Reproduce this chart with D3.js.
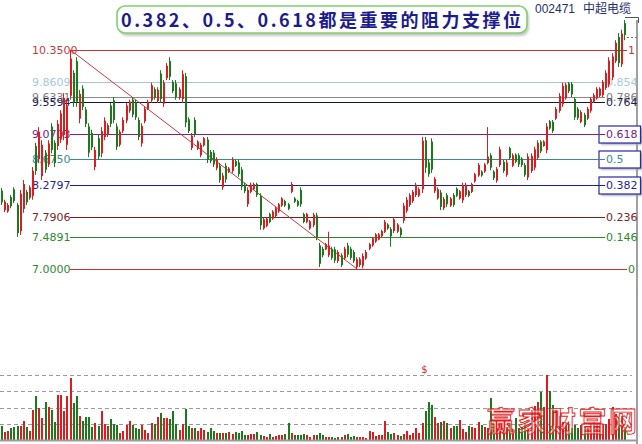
<!DOCTYPE html>
<html>
<head>
<meta charset="utf-8">
<script src="https://cdn.jsdelivr.net/npm/d3@7"></script>
<style>
  html, body { margin: 0; padding: 0; background: #fff; overflow: hidden; }
  svg { display: block; }
</style>
</head>
<body>
<svg id="chart" width="642" height="444"></svg>
<script>
// ---- data ----
const stockCode = "002471";
const stockName = "中超电缆";
const titleText = "0.382、0.5、0.618都是重要的阻力支撑位";
const watermarkText = "赢家财富网";

// Fibonacci retracement ratios, drawn between the swing high and the swing low
const fibRatios = [1, 0.854, 0.786, 0.764, 0.618, 0.5, 0.382, 0.236, 0.146, 0];
const boxedRatios = [0.618, 0.5, 0.382];

// daily bars: [open, high, low, close]
const ohlc = [
  [8.20,8.24,7.98,8.02],[7.90,8.06,7.87,8.03],[7.88,8.01,7.86,7.98],[8.10,8.13,7.93,7.96],[8.22,8.25,8.01,8.04],
  [7.98,8.01,7.49,7.55],[7.58,8.21,7.52,8.15],[7.92,8.36,7.86,8.30],[8.18,8.21,7.98,8.02],[8.09,8.28,8.06,8.25],
  [8.12,8.56,8.06,8.50],[8.88,8.93,8.44,8.50],[8.68,9.17,8.62,9.10],[8.42,8.97,8.36,8.90],[8.78,8.82,8.47,8.52],
  [8.60,8.97,8.56,8.92],[9.18,9.23,8.77,8.82],[8.93,8.97,8.56,8.62],[8.88,9.28,8.82,9.22],[8.98,9.43,8.93,9.38],
  [9.05,9.69,8.97,9.62],[8.90,9.59,8.82,9.50],[9.65,10.35,9.59,10.22],[10.00,10.04,9.48,9.55],[10.18,10.24,9.48,9.56],
  [9.30,9.74,9.23,9.68],[9.76,9.81,9.43,9.48],[9.44,9.48,9.17,9.22],[9.18,9.23,8.71,8.78],[9.08,9.13,8.82,8.86],
  [8.56,8.87,8.51,8.82],[9.00,9.05,8.67,8.72],[8.77,9.17,8.71,9.11],[9.02,9.32,8.97,9.27],[9.05,9.23,9.02,9.20],
  [9.50,9.54,9.17,9.22],[9.58,9.63,9.23,9.28],[9.18,9.23,8.82,8.87],[8.90,9.13,8.87,9.10],[9.11,9.32,9.08,9.28],
  [9.27,9.54,9.23,9.50],[9.42,9.59,9.39,9.56],[9.59,9.63,9.32,9.36],[9.55,9.59,9.28,9.32],[9.28,9.32,8.97,9.02],
  [8.92,9.23,8.87,9.19],[9.26,9.48,9.23,9.45],[9.45,9.59,9.43,9.56],[9.58,9.85,9.54,9.81],[9.75,9.78,9.59,9.62],
  [9.57,9.78,9.54,9.74],[9.99,10.04,9.54,9.60],[9.53,9.89,9.48,9.85],[9.92,10.15,9.89,10.11],[10.18,10.24,9.89,9.94],
  [9.86,9.89,9.69,9.72],[9.84,9.89,9.59,9.63],[9.62,9.78,9.59,9.75],[9.60,10.04,9.54,9.98],[9.95,10.00,9.17,9.24],
  [9.29,9.32,9.08,9.11],[8.85,9.08,8.82,9.04],[9.28,9.32,9.02,9.06],[8.84,8.97,8.82,8.95],[8.74,8.93,8.71,8.90],
  [8.89,9.02,8.87,9.00],[8.98,9.02,8.62,8.67],[8.79,8.82,8.62,8.65],[8.78,8.82,8.56,8.60],[8.54,8.71,8.51,8.68],
  [8.58,8.62,8.32,8.36],[8.25,8.47,8.21,8.43],[8.58,8.62,8.32,8.37],[8.48,8.56,8.47,8.54],[8.50,8.71,8.47,8.68],
  [8.65,8.67,8.56,8.58],[8.63,8.67,8.41,8.45],[8.52,8.56,8.21,8.26],[8.29,8.32,8.16,8.19],[7.99,8.25,7.95,8.21],
  [8.18,8.32,8.16,8.29],[8.22,8.32,8.21,8.30],[8.30,8.32,8.10,8.13],[8.12,8.16,7.60,7.67],[7.62,7.79,7.60,7.76],
  [7.66,7.79,7.64,7.77],[7.84,7.86,7.70,7.72],[7.77,7.90,7.75,7.88],[7.81,7.95,7.79,7.93],[7.88,8.01,7.86,7.99],
  [7.97,8.10,7.95,8.08],[8.04,8.06,7.95,7.97],[7.99,8.01,7.90,7.92],[8.18,8.33,8.16,8.30],[8.08,8.10,8.01,8.03],
  [8.04,8.06,7.95,7.97],[8.21,8.25,7.95,7.99],[7.84,7.86,7.70,7.72],[7.72,7.86,7.70,7.84],[7.62,7.75,7.60,7.73],
  [7.67,7.86,7.64,7.83],[7.82,7.86,7.44,7.49],[7.36,7.40,7.03,7.08],[7.31,7.34,7.18,7.21],[7.30,7.40,7.29,7.38],
  [7.21,7.57,7.18,7.36],[7.31,7.34,7.14,7.17],[7.30,7.34,7.09,7.13],[7.12,7.29,7.09,7.26],[7.21,7.24,7.03,7.06],
  [7.16,7.34,7.14,7.31],[7.36,7.40,7.18,7.22],[7.31,7.34,7.14,7.17],[7.26,7.29,7.09,7.12],[7.03,7.18,7.00,7.15],
  [7.06,7.18,7.03,7.15],[7.05,7.24,7.01,7.20],[7.16,7.29,7.14,7.26],[7.31,7.40,7.29,7.38],[7.36,7.49,7.34,7.47],
  [7.42,7.55,7.40,7.53],[7.45,7.55,7.44,7.53],[7.50,7.60,7.49,7.58],[7.57,7.75,7.55,7.72],[7.68,7.70,7.60,7.62],
  [7.61,7.64,7.34,7.50],[7.58,7.79,7.55,7.76],[7.57,7.70,7.55,7.68],[7.62,7.64,7.49,7.52],[7.74,8.01,7.70,7.97],
  [7.89,8.10,7.86,8.06],[7.98,8.16,7.95,8.13],[8.04,8.21,8.01,8.18],[8.13,8.32,8.10,8.29],[8.12,8.25,8.10,8.22],
  [8.22,9.02,8.16,8.96],[8.97,9.02,8.47,8.55],[8.63,8.67,8.41,8.45],[8.95,9.00,8.47,8.52],[8.19,8.41,8.16,8.38],
  [8.08,8.25,8.06,8.22],[8.17,8.21,7.90,7.95],[7.93,8.10,7.90,8.07],[8.13,8.16,7.95,7.99],[7.97,8.10,7.95,8.08],
  [8.13,8.16,7.95,7.98],[8.23,8.25,8.10,8.12],[8.08,8.21,8.06,8.19],[8.05,8.32,8.01,8.28],[8.13,8.32,8.10,8.29],
  [8.19,8.21,8.10,8.12],[8.18,8.32,8.16,8.30],[8.34,8.47,8.32,8.45],[8.43,8.62,8.41,8.59],[8.49,8.51,8.41,8.43],
  [8.49,8.62,8.47,8.60],[8.62,9.17,8.60,8.72],[8.74,8.77,8.51,8.55],[8.49,8.51,8.36,8.39],[8.35,8.56,8.32,8.53],
  [8.59,8.87,8.56,8.83],[8.64,8.67,8.47,8.50],[8.44,8.67,8.41,8.63],[8.85,8.87,8.67,8.70],[8.58,8.77,8.56,8.74],
  [8.75,8.77,8.62,8.64],[8.74,8.77,8.56,8.60],[8.69,8.71,8.56,8.59],[8.59,8.62,8.41,8.44],[8.40,8.77,8.36,8.72],
  [8.50,8.77,8.47,8.73],[8.55,8.87,8.51,8.83],[8.70,8.97,8.67,8.93],[8.95,8.97,8.77,8.80],[8.88,8.97,8.87,8.95],
  [8.82,9.23,8.77,9.18],[9.26,9.28,9.13,9.15],[9.25,9.28,9.08,9.11],[9.30,9.48,9.28,9.45],[9.42,9.69,9.39,9.65],
  [9.52,9.85,9.48,9.80],[9.61,9.85,9.59,9.82],[9.84,9.86,9.69,9.72],[9.83,9.86,9.63,9.67],[9.60,9.63,9.28,9.32],
  [9.45,9.48,9.28,9.31],[9.25,9.43,9.23,9.40],[9.36,9.39,9.17,9.20],[9.30,9.48,9.28,9.45],[9.42,9.63,9.39,9.60],
  [9.56,9.69,9.54,9.66],[9.61,9.78,9.59,9.75],[9.65,9.78,9.63,9.76],[9.66,9.89,9.63,9.86],[9.77,10.04,9.74,10.00],
  [9.82,10.24,9.78,10.19],[9.93,10.30,9.89,10.25],[10.18,10.50,10.15,10.46],[10.55,10.61,10.09,10.15],[10.13,10.66,10.09,10.60],
  [10.76,10.81,10.50,10.58]
];

// daily volume (same order as ohlc)
const volume = [
  14,8,9,12,13,14,14,19,13,9, 30,44,32,22,38,33,30,18,45,45,
  29,44,62,37,44,24,19,23,23,13, 17,14,29,16,14,21,16,15,7,9,
  15,19,15,12,11,15,10,7,17,16, 23,27,22,22,21,29,16,10,16,31,
  14,12,12,9,12,10,8,12,9,7, 7,7,7,8,6,8,7,9,5,5,
  6,6,8,5,4,3,6,3,4,5, 5,6,17,7,5,5,5,6,5,3,
  5,5,7,5,3,3,3,2,3,3, 5,6,3,4,3,3,3,2,9,8,
  4,5,5,19,8,6,7,5,4,6, 9,5,7,12,7,17,29,38,35,23,
  17,18,19,17,12,14,14,20,11,8, 14,13,12,18,15,13,12,42,16,12,
  15,10,13,17,9,22,12,13,17,12, 30,34,38,48,33,65,49,35,30,24,
  18,18,16,12,15,12,15,14,12,16, 18,16,16,16,16,21,33,26,22,24,
  13
];

// ---- styles ----
const levelStyle = {
  "1":     { line: "#c83232", text: "#c83c3c" },
  "0.854": { line: "#a9c6dc", text: "#a9c6dc" },
  "0.786": { line: "#8a8a8a", text: "#808080" },
  "0.764": { line: "#14143c", text: "#1c1c50" },
  "0.618": { line: "#802080", text: "#802080" },
  "0.5":   { line: "#3a8c8c", text: "#3a8c8c" },
  "0.382": { line: "#1c1c9c", text: "#2424a0" },
  "0.236": { line: "#7c1c1c", text: "#802424" },
  "0.146": { line: "#2c8a2c", text: "#2c8a2c" },
  "0":     { line: "#c83232", text: "#2c8a2c" }
};
const upColor = "#d81e1e", downColor = "#1c7a1c";

// ---- layout ----
const svg = d3.select("#chart");
const n = ohlc.length;
const x = d3.scalePoint().domain(d3.range(n)).range([2, 625]);

// swing low and the swing high before it anchor the retracement
const lowIdx = d3.minIndex(ohlc, d => d[2]);
const highIdx = d3.maxIndex(ohlc.slice(0, lowIdx), d => d[1]);
const swingLow = ohlc[lowIdx][2], swingHigh = ohlc[highIdx][1];

const y = d3.scaleLinear().domain([swingLow, swingHigh]).range([269, 50]);
const yv = d3.scaleLinear().domain([0, d3.max(volume)]).range([440, 375]);

const FONT = "'DejaVu Sans', Verdana, sans-serif";
const CJK = "'Noto Sans CJK SC', 'Noto Sans', sans-serif";

// ---- volume pane ----
const volGrid = svg.append("g");
d3.range(1, 5).map(k => d3.max(volume) * k / 4).forEach(v => {
  volGrid.append("line")
    .attr("x1", 0).attr("x2", 632)
    .attr("y1", Math.round(yv(v)) + 0.5).attr("y2", Math.round(yv(v)) + 0.5)
    .attr("stroke", "#9a9a9a").attr("stroke-dasharray", "4,3");
});

svg.append("g").selectAll("rect").data(volume).join("rect")
  .attr("x", (d, i) => Math.round(x(i)) - 1)
  .attr("width", 2)
  .attr("y", d => yv(d))
  .attr("height", d => yv(0) - yv(d))
  .attr("fill", (d, i) => ohlc[i][3] >= ohlc[i][0] ? upColor : downColor);

svg.append("line").attr("x1", 0).attr("x2", 637).attr("y1", 440.5).attr("y2", 440.5)
  .attr("stroke", "#9c9c9c").attr("stroke-width", 2);

// dividend marker
svg.append("text").attr("x", 424.5).attr("y", 373).attr("text-anchor", "middle")
  .attr("font-family", FONT).attr("font-size", 10).attr("fill", "#d03030").text("$");

// ---- retracement levels ----
const levels = fibRatios.map(r => ({ r, key: String(r), price: swingLow + r * (swingHigh - swingLow) }));

const defs = svg.append("defs");
const sh = defs.append("filter").attr("id", "soft").attr("x", "-20%").attr("y", "-40%").attr("width", "160%").attr("height", "200%");
sh.append("feGaussianBlur").attr("stdDeviation", 1.2);

// right frame line
svg.append("line").attr("x1", 637).attr("x2", 637).attr("y1", 20).attr("y2", 444)
  .attr("stroke", "#a0a0a0").attr("stroke-width", 2);

const lvl = svg.append("g");
levels.forEach(L => {
  const ly = Math.round(y(L.price)) + 0.5;
  const st = levelStyle[L.key];
  const shortLabel = L.r === 1 || L.r === 0;
  const labelX = shortLabel ? 628 : 606;
  const boxed = boxedRatios.includes(L.r);

  if (boxed) {
    lvl.append("rect").attr("x", 601).attr("y", ly - 7).attr("width", 42).attr("height", 17)
      .attr("fill", "#9c9cb4").attr("filter", "url(#soft)");
    lvl.append("rect").attr("x", 599).attr("y", ly - 8.5).attr("width", 41.5).attr("height", 17)
      .attr("fill", "#fff").attr("stroke", "#2a2aa0").attr("stroke-width", 1.2);
  }
  lvl.append("line").attr("x1", 70).attr("x2", labelX - 1).attr("y1", ly).attr("y2", ly)
    .attr("stroke", st.line).attr("stroke-width", 1);

  lvl.append("text").attr("x", 32).attr("y", ly).attr("dy", "0.36em")
    .attr("font-family", FONT).attr("font-size", 11).attr("fill", st.text)
    .text(L.price.toFixed(4));
  lvl.append("text").attr("x", labelX).attr("y", ly).attr("dy", "0.36em")
    .attr("font-family", FONT).attr("font-size", 11).attr("fill", st.text)
    .text(L.key);
});

// trend line from the swing high down to the swing low
svg.append("line")
  .attr("x1", x(highIdx)).attr("y1", y(swingHigh))
  .attr("x2", x(lowIdx)).attr("y2", y(swingLow))
  .attr("stroke", "#c43c3c").attr("stroke-width", 1);

// ---- candles ----
const cg = svg.append("g").selectAll("g").data(ohlc).join("g")
  .attr("fill", d => d[3] >= d[0] ? upColor : downColor)
  .attr("stroke", d => d[3] >= d[0] ? upColor : downColor);
cg.append("line")
  .attr("x1", (d, i) => Math.round(x(i)) - 0.5)
  .attr("x2", (d, i) => Math.round(x(i)) - 0.5)
  .attr("y1", d => y(d[1])).attr("y2", d => y(d[2]))
  .attr("stroke-width", 1);
cg.append("rect")
  .attr("x", (d, i) => Math.round(x(i)) - 1)
  .attr("width", 2)
  .attr("y", d => y(Math.max(d[0], d[3])))
  .attr("height", d => Math.max(1, Math.abs(y(d[0]) - y(d[3]))))
  .attr("stroke", "none");

// current price marker at the top right
svg.append("path").attr("d", "M625,17.5H638.5V23").attr("fill", "none").attr("stroke", "#555");
svg.append("line").attr("x1", 627).attr("x2", 638).attr("y1", 37.5).attr("y2", 37.5)
  .attr("stroke", "#777").attr("stroke-dasharray", "2,2");

// ---- title ----
svg.append("rect").attr("x", 119).attr("y", 9).attr("width", 410).attr("height", 27).attr("rx", 8)
  .attr("fill", "#c8c8c8").attr("filter", "url(#soft)");
svg.append("rect").attr("x", 117).attr("y", 6).attr("width", 410).attr("height", 27).attr("rx", 8)
  .attr("fill", "#fff").attr("stroke", "#7fd06e").attr("stroke-width", 1.6);
svg.append("text").attr("x", 121).attr("y", 27)
  .attr("font-family", CJK).attr("font-size", 18).attr("font-weight", "bold")
  .attr("fill", "#1c1c8c").attr("textLength", 400).attr("lengthAdjust", "spacing")
  .text(titleText);

svg.append("text").attr("x", 535).attr("y", 13)
  .attr("font-family", "'Liberation Sans', Arial, sans-serif").attr("font-size", 12)
  .attr("fill", "#24306e").text(stockCode);
svg.append("text").attr("x", 583).attr("y", 13)
  .attr("font-family", CJK).attr("font-size", 12)
  .attr("fill", "#24306e").text(stockName);

// watermark
svg.append("text").attr("x", 487).attr("y", 432)
  .attr("font-family", CJK).attr("font-size", 28).attr("font-weight", "bold")
  .attr("textLength", 150).attr("lengthAdjust", "spacing")
  .attr("fill", "#fff").attr("fill-opacity", 0.45)
  .attr("stroke", "#e41b1b").attr("stroke-width", 0.9)
  .text(watermarkText);
</script>
</body>
</html>
